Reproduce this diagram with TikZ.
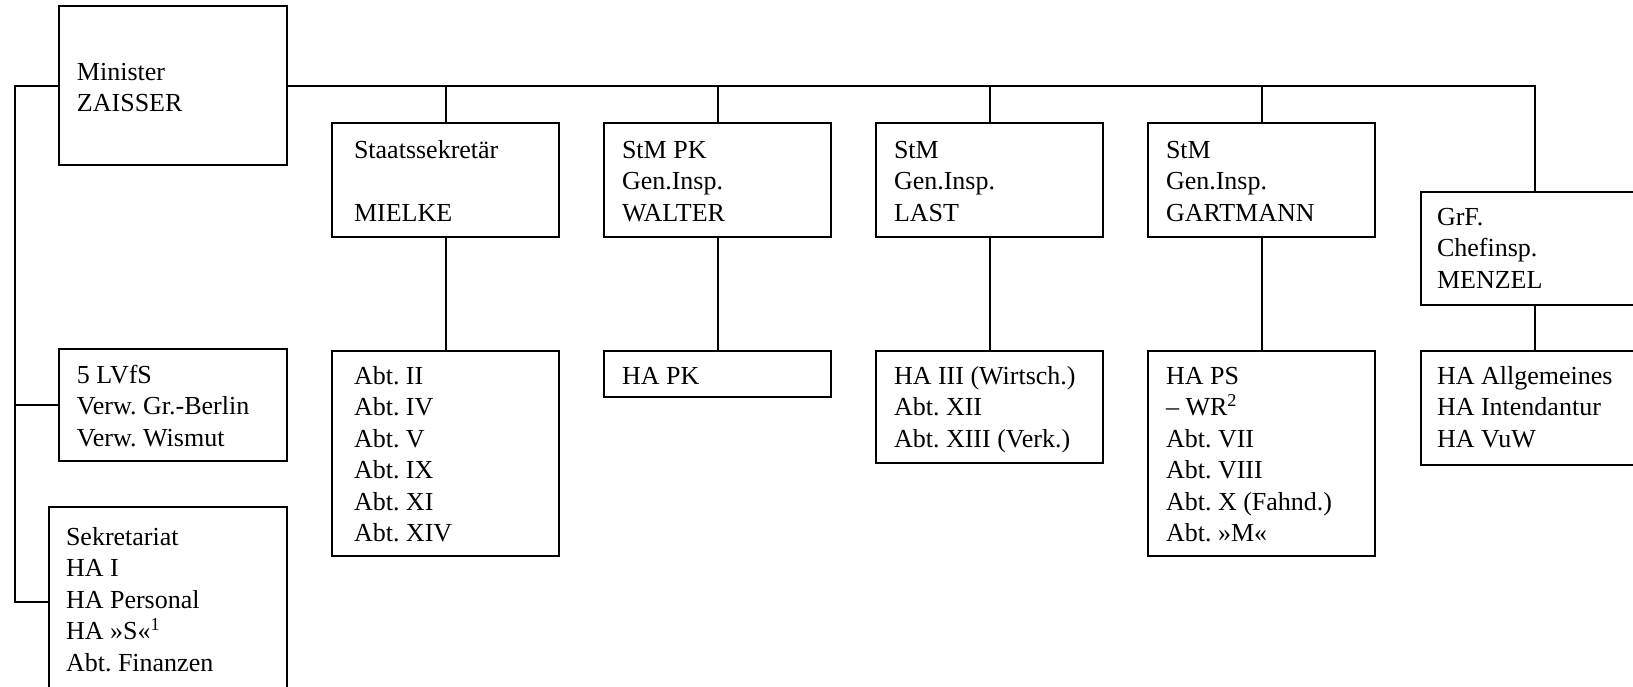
\documentclass[tikz,border=0pt]{standalone}
\usepackage{fontspec}
\setmainfont{Liberation Serif}
\frenchspacing
\newcommand\orgtext[5]{\parbox[c][#2][t]{#1}{\raggedright\frenchspacing\leftskip=#3\relax\vspace*{\dimexpr#4-11.025pt\relax}\strut #5}}
\begin{document}
\begin{tikzpicture}[x=0.5pt,y=-0.5pt,
  orgbox/.style={draw,line width=1pt,rectangle,inner sep=0pt,outer sep=0pt,anchor=north west,font=\fontsize{13}{15.75}\selectfont},
  link/.style={line width=1pt}]
\clip (0,0) rectangle (1633,686);
\fill[white] (0,0) rectangle (1633,686);
% top level
\node[orgbox] (minister) at (59,6) {\orgtext{114pt}{79.5pt}{9pt}{37pt}{Minister\\ZAISSER}};
% row 1
\node[orgbox] (mielke) at (332,123) {\orgtext{113.5pt}{57pt}{11pt}{17.5pt}{Staatssekretär\\[15.75pt]MIELKE}};
\node[orgbox] (walter) at (604,123) {\orgtext{113.5pt}{57pt}{9pt}{17.5pt}{StM PK\\Gen.Insp.\\WALTER}};
\node[orgbox] (last) at (876,123) {\orgtext{113.5pt}{57pt}{9pt}{17.5pt}{StM\\Gen.Insp.\\LAST}};
\node[orgbox] (gart) at (1148,123) {\orgtext{113.5pt}{57pt}{9pt}{17.5pt}{StM\\Gen.Insp.\\GARTMANN}};
\node[orgbox] (menzel) at (1421,192) {\orgtext{114pt}{56.5pt}{8pt}{16.5pt}{GrF.\\Chefinsp.\\MENZEL}};
% row 2
\node[orgbox] (mielkesub) at (332,351) {\orgtext{113.5pt}{102.5pt}{11pt}{16.5pt}{Abt. II\\Abt. IV\\Abt. V\\Abt. IX\\Abt. XI\\Abt. XIV}};
\node[orgbox] (waltersub) at (604,351) {\orgtext{113.5pt}{23pt}{9pt}{16.5pt}{HA PK}};
\node[orgbox] (lastsub) at (876,351) {\orgtext{113.5pt}{56pt}{9pt}{16.5pt}{HA III (Wirtsch.)\\Abt. XII\\Abt. XIII (Verk.)}};
\node[orgbox] (gartsub) at (1148,351) {\orgtext{113.5pt}{102.5pt}{9pt}{16.5pt}{HA PS\\– WR\textsuperscript{2}\\Abt. VII\\Abt. VIII\\Abt. X (Fahnd.)\\Abt. »M«}};
\node[orgbox] (menzelsub) at (1421,351) {\orgtext{114pt}{57pt}{8pt}{16.5pt}{HA Allgemeines\\HA Intendantur\\HA VuW}};
% left column
\node[orgbox] (lvfs) at (59,349) {\orgtext{114pt}{56pt}{9pt}{17pt}{5 LVfS\\Verw. Gr.-Berlin\\Verw. Wismut}};
\node[orgbox] (sekr) at (49,507) {\orgtext{119pt}{95pt}{8.5pt}{19pt}{Sekretariat\\HA I\\HA Personal\\HA »S«\textsuperscript{1}\\Abt. Finanzen}};
% connectors
\coordinate (lbus) at (15,0);
\draw[link] (minister.east) -- (menzel.north |- minister.east) -- (menzel.north);
\foreach \n in {mielke,walter,last,gart}{
  \draw[link] (\n.north |- minister.east) -- (\n.north);
  \draw[link] (\n.south) -- (\n sub.north);
}
\draw[link] (menzel.south) -- (menzelsub.north);
\draw[link] (minister.west) -- (lbus |- minister.west) |- (sekr.west);
\draw[link] (lbus |- lvfs.west) -- (lvfs.west);
\end{tikzpicture}
\end{document}
